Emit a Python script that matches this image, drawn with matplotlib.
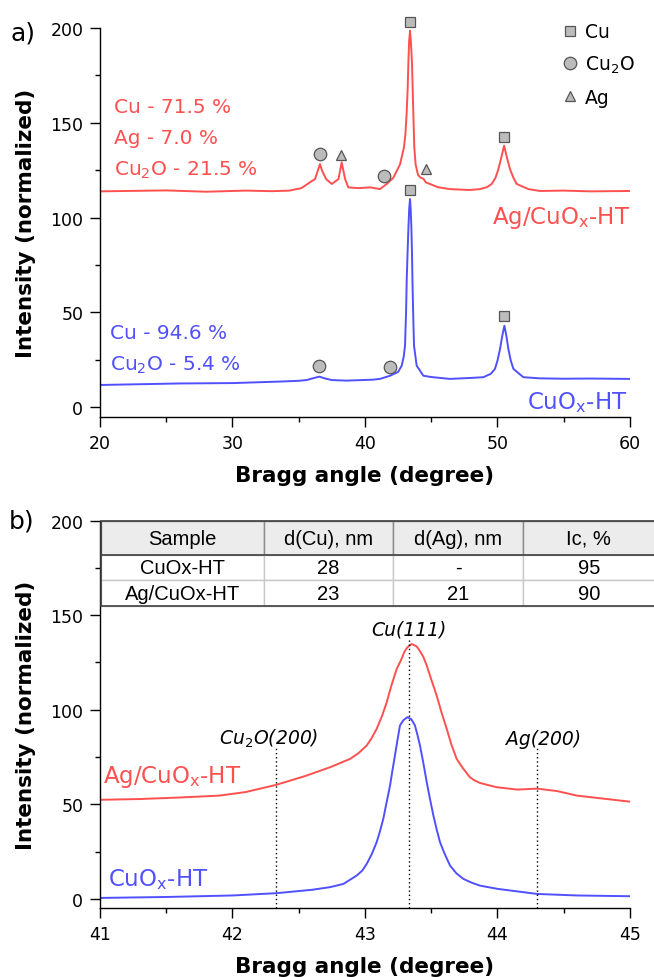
import matplotlib
matplotlib.use("Agg")
import matplotlib.pyplot as plt
from matplotlib.lines import Line2D
from matplotlib.patches import Rectangle
from matplotlib.ticker import AutoMinorLocator, MultipleLocator

plt.rcParams["font.family"] = ["DejaVu Sans"]
plt.rcParams["mathtext.fontset"] = "dejavusans"

RED = "#ff5050"
BLUE = "#5050ff"
MARK_FACE = "#bcbcbc"
MARK_EDGE = "#555555"

# panel a: full XRD patterns
ag_a_x = [20, 22, 25, 28, 31, 33, 34.3, 35.2, 35.85, 36.23, 36.45, 36.6, 36.75, 37.06,
          37.49, 38.0, 38.14, 38.24, 38.36, 38.5, 38.74, 39.5, 40.38, 41.13, 41.64, 42.14,
          42.64, 42.94, 43.05, 43.14, 43.22, 43.27, 43.33, 43.4, 43.47, 43.55, 43.6, 43.65,
          43.72, 43.82, 44.0, 44.2, 44.4, 44.6, 44.9, 45.5, 46.4, 47.92, 48.68, 49.2, 49.56,
          49.85, 50.07, 50.3, 50.5, 50.7, 50.94, 51.2, 51.45, 52.33, 53.2, 55, 57, 60]
ag_a_y = [113.8, 114.0, 114.3, 113.6, 114.2, 113.9, 114.2, 115.5, 118.6, 120.3, 125.0,
          128.2, 125.0, 120.3, 117.7, 120.3, 125.5, 129.1, 125.0, 120.3, 115.9, 115.5, 115.9,
          115.0, 117.7, 121.0, 128.0, 137.0, 144.0, 154.6, 168.0, 181.0, 193.0, 198.6, 192.0,
          181.0, 167.0, 154.6, 137.0, 128.0, 122.5, 121.0, 120.5, 118.5, 117.7, 116.0,
          115.0, 114.5, 115.0, 116.0, 117.7, 121.0, 125.6, 132.0, 137.9, 132.0, 125.6,
          121.0, 117.7, 115.0, 114.0, 114.2, 113.8, 114.0]

cu_a_x = [20, 23, 26, 30, 33.58, 35.0, 35.6, 36.0, 36.55, 37.0, 37.49, 38.6, 40.6, 41.13,
          41.9, 42.5, 42.77, 42.92, 43.02, 43.1, 43.15, 43.22, 43.28, 43.34, 43.4, 43.45,
          43.5, 43.55, 43.58, 43.64, 43.7, 43.9, 44.4, 45.0, 46.4, 47.92, 48.93, 49.5,
          49.81, 50.0, 50.19, 50.36, 50.52, 50.67, 50.82, 51.0, 51.2, 51.95, 53.2, 55, 57, 60]
cu_a_y = [11.6, 12.0, 12.4, 12.6, 13.4, 13.8, 14.2, 15.0, 16.0, 15.0, 14.2, 13.9, 14.4,
          14.8, 16.5, 18.5, 21.8, 26.5, 32.3, 50.0, 67.5, 83.0, 95.0, 105.0, 109.8, 104.0,
          95.0, 80.0, 67.5, 48.0, 32.3, 21.8, 16.5, 15.8, 14.8, 15.3, 15.7, 17.5, 20.1,
          24.5, 30.6, 37.5, 42.9, 37.5, 30.6, 24.5, 20.1, 15.7, 15.1, 14.9, 15.0, 14.8]

# phase markers
cu_mark_x = [43.4, 50.5, 43.4, 50.5]
cu_mark_y = [203, 142.7, 114.5, 48.2]
cu2o_mark_x = [36.6, 41.4, 36.55, 41.9]
cu2o_mark_y = [133.3, 122, 21.5, 21]
ag_mark_x = [38.2, 44.58]
ag_mark_y = [133, 125.6]

ag_phases = ["Cu - 71.5 %", "Ag - 7.0 %", "Cu$_2$O - 21.5 %"]
cu_phases = ["Cu - 94.6 %", "Cu$_2$O - 5.4 %"]

# panel b: Cu(111) region
ag_b_x = [41.0, 41.3, 41.6, 41.9, 42.1, 42.33, 42.55, 42.736, 42.887, 42.95, 43.013,
          43.05, 43.088, 43.13, 43.164, 43.2, 43.239, 43.27, 43.3, 43.32, 43.352, 43.39,
          43.41, 43.44, 43.466, 43.5, 43.541, 43.58, 43.617, 43.65, 43.692, 43.74, 43.792,
          43.83, 43.868, 43.95, 44.0, 44.15, 44.3, 44.45, 44.6, 44.8, 45.0]
ag_b_y = [52.4, 52.8, 53.6, 54.6, 56.5, 60.3, 65.0, 69.6, 74.0, 77.0, 81.1, 85.0, 89.9,
          97.0, 104.0, 113.0, 121.6, 126.0, 131.0, 133.0, 134.8, 133.5, 131.5, 128.0,
          123.4, 116.0, 107.5, 98.0, 89.9, 82.0, 74.0, 69.0, 64.3, 62.5, 61.3, 59.8, 59.0,
          57.8, 58.3, 57.0, 54.6, 53.0, 51.4]
cu_b_x = [41.0, 41.5, 42.0, 42.33, 42.6, 42.736, 42.837, 42.937, 42.98, 43.013, 43.05,
          43.088, 43.11, 43.138, 43.16, 43.189, 43.205, 43.226, 43.245, 43.264, 43.29,
          43.32, 43.35, 43.377, 43.395, 43.415, 43.44, 43.466, 43.49, 43.516, 43.54,
          43.566, 43.6, 43.642, 43.69, 43.742, 43.8, 43.868, 44.0, 44.3, 44.6, 45.0]
cu_b_y = [0.5, 1.0, 1.8, 3.0, 4.8, 6.2, 7.9, 12.3, 15.0, 18.5, 23.5, 30.0, 35.0, 42.3,
          50.0, 59.9, 67.0, 75.8, 84.0, 91.7, 94.5, 96.1, 95.0, 91.7, 87.0, 81.1, 72.0,
          61.7, 53.0, 44.1, 37.0, 30.0, 24.0, 17.6, 13.5, 10.6, 8.7, 7.0, 5.3, 2.6, 1.8, 1.4]

ref_labels = ["Cu$_2$O(200)", "Cu(111)", "Ag(200)"]
ref_pos = [42.33, 43.33, 44.3]
ref_top = [80, 138, 80]

table_cols = ["Sample", "d(Cu), nm", "d(Ag), nm", "Ic, %"]
table_rows = [["CuOx-HT", "28", "-", "95"],
              ["Ag/CuOx-HT", "23", "21", "90"]]

AG_NAME = "Ag/CuO$_\\mathregular{x}$-HT"
CU_NAME = "CuO$_\\mathregular{x}$-HT"


def style_axis(ax, major_x):
    for side in ("top", "right"):
        ax.spines[side].set_visible(False)
    for side in ("left", "bottom"):
        ax.spines[side].set_linewidth(1.0)
    ax.xaxis.set_major_locator(MultipleLocator(major_x))
    ax.yaxis.set_major_locator(MultipleLocator(50))
    ax.xaxis.set_minor_locator(AutoMinorLocator(2))
    ax.yaxis.set_minor_locator(AutoMinorLocator(2))
    ax.tick_params(which="major", direction="out", length=7, width=1.0, labelsize=12.5, pad=5)
    ax.tick_params(which="minor", direction="out", length=3.6, width=1.0)
    ax.set_xlabel("Bragg angle (degree)", fontsize=15.5, fontweight="bold")
    ax.set_ylabel("Intensity (normalized)", fontsize=15.5, fontweight="bold")
    ax.yaxis.set_label_coords(-0.12, 0.5)
    ax.xaxis.set_label_coords(0.5, -0.123)


fig = plt.figure(figsize=(6.54, 9.78), dpi=100)

# ---------------- panel a ----------------
ax = fig.add_axes([0.1529, 0.5726, 0.8104, 0.3977])
ax.plot(ag_a_x, ag_a_y, color=RED, lw=1.4)
ax.plot(cu_a_x, cu_a_y, color=BLUE, lw=1.4)
mk = dict(ls="none", mfc=MARK_FACE, mec=MARK_EDGE, mew=0.9)
ax.plot(cu_mark_x, cu_mark_y, marker="s", ms=7.8, clip_on=False, zorder=5, **mk)
ax.plot(cu2o_mark_x, cu2o_mark_y, marker="o", ms=9, clip_on=False, zorder=5, **mk)
ax.plot(ag_mark_x, ag_mark_y, marker="^", ms=7.5, clip_on=False, zorder=5, **mk)

for txt, yb in zip(ag_phases, [155.7, 139.2, 122.8]):
    ax.text(21.06, yb, txt, color=RED, fontsize=14.5, va="baseline")
for txt, yb in zip(cu_phases, [36.6, 19.9]):
    ax.text(20.75, yb, txt, color=BLUE, fontsize=14.5, va="baseline")
ax.text(60, 97, AG_NAME, color=RED, fontsize=16.5, ha="right", va="baseline")
ax.text(59.8, -0.8, CU_NAME, color=BLUE, fontsize=16.5, ha="right", va="baseline")

handles = [Line2D([], [], marker="s", ms=7.8, **mk),
           Line2D([], [], marker="o", ms=9, **mk),
           Line2D([], [], marker="^", ms=7.5, **mk)]
ax.legend(handles, ["Cu", "Cu$_2$O", "Ag"], loc="upper left", bbox_to_anchor=(0.875, 1.015),
          frameon=False, fontsize=13.5, handlelength=0.7, handletextpad=0.45,
          labelspacing=0.68, borderpad=0, borderaxespad=0)

ax.set_xlim(20, 60)
ax.set_ylim(-5.3, 200)
style_axis(ax, 10)
fig.text(0.016, 0.966, "a)", fontsize=18, va="center")

# ---------------- panel b ----------------
bx = fig.add_axes([0.1529, 0.0706, 0.8104, 0.396])
bx.plot(ag_b_x, ag_b_y, color=RED, lw=1.4)
bx.plot(cu_b_x, cu_b_y, color=BLUE, lw=1.4)
for xp, top in zip(ref_pos, ref_top):
    bx.vlines(xp, -4.8, top, colors="black", linestyles=(0, (1, 2)), lw=1.0)
bx.text(43.33, 140, ref_labels[1], fontsize=13.5, style="italic", ha="center", va="baseline")
bx.text(42.27, 82, ref_labels[0], fontsize=13.5, style="italic", ha="center", va="baseline")
bx.text(44.35, 82, ref_labels[2], fontsize=13.5, style="italic", ha="center", va="baseline")
bx.text(41.02, 61.9, AG_NAME, color=RED, fontsize=16.5, va="baseline")
bx.text(41.06, 7.4, CU_NAME, color=BLUE, fontsize=16.5, va="baseline")

bx.set_xlim(41, 45)
bx.set_ylim(-4.8, 200)
style_axis(bx, 1)
fig.text(0.013, 0.467, "b)", fontsize=18, va="center")

# table with crystallite sizes
col_w = [163, 129, 130, 132]
hdr_h, row_h = 34, 25.5
tb_x0, tb_y0, tb_w, tb_h = 0.002, 0.7798, 1.045, 0.2192
tab = bx.table(cellText=table_rows, colLabels=table_cols, cellLoc="center",
               colWidths=[w / sum(col_w) for w in col_w],
               bbox=[tb_x0, tb_y0, tb_w, tb_h])
tab.auto_set_font_size(False)
tab.set_fontsize(14.5)
for (r, c), cell in tab.get_celld().items():
    cell.get_text().set_fontfamily("Liberation Sans")
    cell.set_linewidth(1.0)
    if r == 0:
        cell.set_height(hdr_h)
        cell.set_facecolor("#ececec")
        cell.set_edgecolor("#8a8a8a")
    else:
        cell.set_height(row_h)
        cell.set_facecolor("white")
        cell.set_edgecolor("#c8c8c8")
tot_h = hdr_h + row_h * len(table_rows)
y_hdr = tb_y0 + tb_h * (row_h * len(table_rows)) / tot_h
bx.add_patch(Rectangle((tb_x0, tb_y0), tb_w, tb_h, transform=bx.transAxes, fill=False,
                       edgecolor="#404040", lw=1.2, clip_on=False, zorder=10))
bx.plot([tb_x0, tb_x0 + tb_w], [y_hdr, y_hdr], transform=bx.transAxes, color="#404040",
        lw=1.2, clip_on=False, zorder=10)

fig.savefig("out.png", dpi=100)
